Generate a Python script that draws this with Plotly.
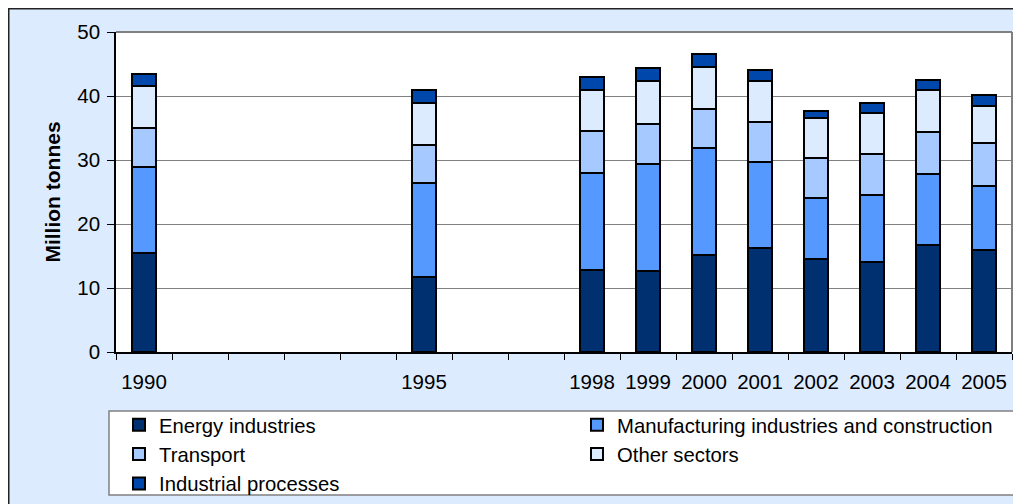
"""
Stacked bar chart: emissions by sector, million tonnes
"""

import plotly.graph_objs as go

years = [1990, 1995, 1998, 1999, 2000, 2001, 2002, 2003, 2004, 2005]
energy = [15.4, 11.7, 12.8, 12.6, 15.2, 16.2, 14.6, 14.0, 16.7, 15.9]
manufacturing = [13.5, 14.7, 15.2, 16.7, 16.6, 13.5, 9.4, 10.6, 11.1, 10.1]
transport = [6.1, 6.0, 6.5, 6.4, 6.2, 6.2, 6.3, 6.4, 6.6, 6.6]
other = [6.6, 6.5, 6.4, 6.6, 6.5, 6.5, 6.3, 6.3, 6.5, 5.9]
industrial = [1.8, 2.0, 2.1, 2.1, 2.1, 1.6, 1.0, 1.6, 1.6, 1.7]

series = [
    ("Energy industries", energy, "#00306F"),
    ("Manufacturing industries and construction", manufacturing, "#5599FF"),
    ("Transport", transport, "#A6C9FF"),
    ("Other sectors", other, "#DDEBFF"),
    ("Industrial processes", industrial, "#0047AB"),
]

FONT = "Liberation Sans, Arial, sans-serif"
# page body has an 8px margin, so the figure is laid out in its own coords
W, H = 1013, 496
L, R, T, B = 108, 9, 24, 152

def px_x(x):
    return (x - L) / (W - L - R)

def px_y(y):
    return (H - B - y) / (H - T - B)

data = []
for name, vals, col in series:
    data.append(go.Bar(
        x=years,
        y=vals,
        name=name,
        width=0.43,
        marker=dict(color=col, line=dict(color='black', width=2))
    ))

layout = go.Layout(
    width=W,
    height=H,
    barmode='stack',
    margin=dict(l=L, r=R, t=T, b=B, autoexpand=False),
    paper_bgcolor='#DDEBFF',
    plot_bgcolor='white',
    font=dict(family=FONT, size=20.5, color='black'),
    xaxis=dict(
        range=[1989.5, 2005.5],
        tickmode='array',
        tickvals=years,
        ticktext=[str(y) for y in years],
        ticks='outside',
        ticklen=6,
        tickcolor='rgba(0,0,0,0)',
        ticklabelstandoff=5,
        showgrid=False,
        showline=True,
        linecolor='black',
        linewidth=1.5,
        zeroline=False,
        minor=dict(tick0=1989.5, dtick=1, ticks='outside', ticklen=6,
                   tickcolor='black', tickwidth=1, showgrid=False),
    ),
    yaxis=dict(
        range=[0, 50],
        dtick=10,
        ticks='outside',
        ticklen=7,
        tickcolor='black',
        ticklabelstandoff=3,
        showgrid=True,
        gridcolor='#808080',
        gridwidth=1,
        showline=True,
        linecolor='black',
        linewidth=1.5,
        zeroline=False,
        title=dict(text='<b>Million tonnes</b>', font=dict(size=21), standoff=11),
    ),
    legend=dict(
        orientation='h',
        x=px_x(106),
        xanchor='left',
        y=px_y(397),
        yanchor='top',
        bgcolor='rgba(0,0,0,0)',
        entrywidth=408,
        indentation=5,
        traceorder='normal',
        font=dict(size=20.3),
    ),
    shapes=[
        # outer frame
        dict(type='rect', xref='paper', yref='paper',
             x0=px_x(0.5), x1=px_x(1040), y0=px_y(520), y1=px_y(0.5),
             line=dict(color='#222222', width=2), layer='below'),
        # legend box
        dict(type='rect', xref='paper', yref='paper',
             x0=px_x(101), x1=px_x(1040), y0=px_y(487), y1=px_y(403),
             fillcolor='white', line=dict(color='#808080', width=1.5), layer='below'),
        # plot frame top/right
        dict(type='line', xref='paper', yref='paper', x0=0, x1=1, y0=1, y1=1,
             line=dict(color='#808080', width=2)),
        dict(type='line', xref='paper', yref='paper', x0=1, x1=1, y0=0, y1=1,
             line=dict(color='#808080', width=2)),
    ],
)

fig = go.Figure(data=data, layout=layout)
fig.write_html("out.html")
